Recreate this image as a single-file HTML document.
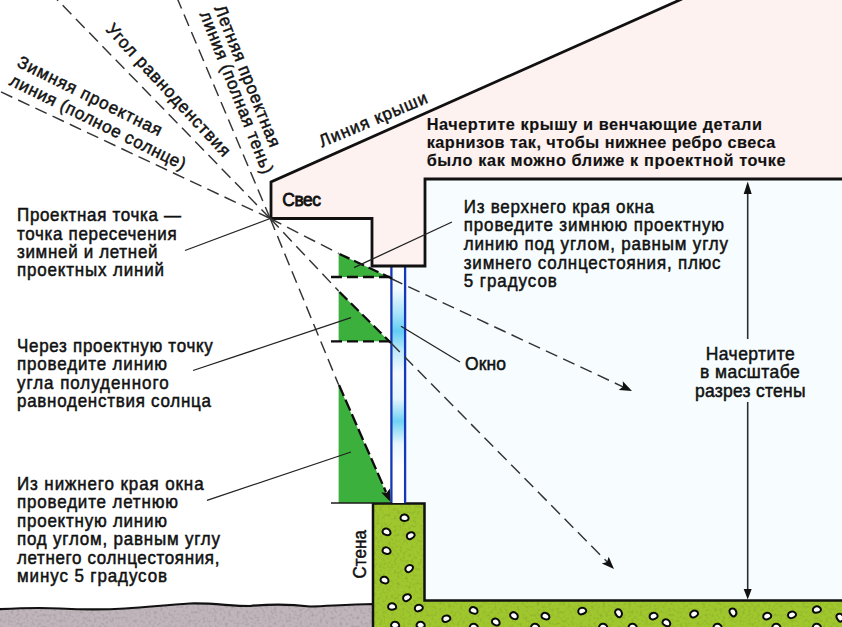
<!DOCTYPE html>
<html><head><meta charset="utf-8"><style>
html,body{margin:0;padding:0;background:#fff;}
svg{display:block;font-family:"Liberation Sans", sans-serif;}
</style></head><body>
<svg width="842" height="627" viewBox="0 0 842 627">
<rect width="842" height="627" fill="#fff"/>
<rect x="405" y="179" width="437" height="425" fill="#f7fdff"/>
<polygon points="271,182 680,0 842,0 842,179 425,179 425,266 372,266 372,218.5 271,218.5" fill="#fdf2f0"/>
<defs>
<filter id="noise" x="0" y="0" width="100%" height="100%"><feTurbulence type="fractalNoise" baseFrequency="0.35" numOctaves="2" seed="3"/><feColorMatrix type="matrix" values="0 0 0 0 0  0 0 0 0 0  0 0 0 0 0  0 0 0 1.2 -0.55"/></filter>
<clipPath id="cpG"><path d="M-5,609.5 C20,608 40,607.5 60,608.5 C80,609.5 100,610 125,608.5 C150,607 165,605 190,603.5 C215,603 230,606 250,606 C270,604 290,604 310,606.5 C330,606 345,604.5 374,604 L374,632 L-5,632 Z"/></clipPath>
<clipPath id="cpF"><path d="M373,503.5 L424.5,503.5 L424.5,600.5 L846,600.5 L846,632 L373,632 Z"/></clipPath>
</defs>
<path d="M-5,609.5 C20,608 40,607.5 60,608.5 C80,609.5 100,610 125,608.5 C150,607 165,605 190,603.5 C215,603 230,606 250,606 C270,604 290,604 310,606.5 C330,606 345,604.5 374,604 L374,632 L-5,632 Z" fill="#bfb5bb"/>
<g clip-path="url(#cpG)" opacity="0.25"><rect x="0" y="595" width="380" height="40" filter="url(#noise)"/></g>
<path d="M-5,609.5 C20,608 40,607.5 60,608.5 C80,609.5 100,610 125,608.5 C150,607 165,605 190,603.5 C215,603 230,606 250,606 C270,604 290,604 310,606.5 C330,606 345,604.5 374,604 L374,632 L-5,632 Z" fill="none" stroke="#111" stroke-width="2.2"/>
<path d="M373,503.5 L424.5,503.5 L424.5,600.5 L846,600.5 L846,632 L373,632 Z" fill="#a0c82e"/>
<g clip-path="url(#cpF)" opacity="0.22"><rect x="370" y="500" width="480" height="130" filter="url(#noise)"/></g>
<path d="M373,503.5 L424.5,503.5 L424.5,600.5 L846,600.5 L846,632 L373,632 Z" fill="none" stroke="#111" stroke-width="2.5"/>
<defs><linearGradient id="gl" x1="0" y1="266" x2="0" y2="503" gradientUnits="userSpaceOnUse">
<stop offset="0" stop-color="#ffffff"/>
<stop offset="0.1" stop-color="#f2fbff"/>
<stop offset="0.2" stop-color="#a8e4fa"/>
<stop offset="0.275" stop-color="#62cdf3"/>
<stop offset="0.36" stop-color="#bfeafb"/>
<stop offset="0.45" stop-color="#f4fbff"/>
<stop offset="0.56" stop-color="#e6f6fd"/>
<stop offset="0.655" stop-color="#6fd1f4"/>
<stop offset="0.75" stop-color="#e8f7fd"/>
<stop offset="0.85" stop-color="#ffffff"/>
<stop offset="1" stop-color="#ffffff"/>
</linearGradient></defs>
<rect x="392" y="266" width="12.5" height="237" fill="url(#gl)"/>
<line x1="391.4" y1="266" x2="391.4" y2="503" stroke="#1438b8" stroke-width="2.3"/>
<line x1="405.1" y1="266" x2="405.1" y2="503" stroke="#1438b8" stroke-width="2.3"/>
<polygon points="338.6,253.5 338.6,277 388.5,277" fill="#3cb03c"/>
<polygon points="338.6,291 338.6,341.3 389,341.3" fill="#3cb03c"/>
<polygon points="338.6,384.8 338.6,503 390.5,503" fill="#3cb03c"/>
<line x1="331" y1="277" x2="392" y2="277" stroke="#0d0d0d" stroke-width="2.3" stroke-dasharray="11 5" fill="none"/>
<line x1="331" y1="341.3" x2="390" y2="341.3" stroke="#0d0d0d" stroke-width="2.3" stroke-dasharray="11 5" fill="none"/>
<line x1="331" y1="503" x2="392" y2="503" stroke="#1a1a1a" stroke-width="1.7"/>
<path d="M-0.5,-3.2 C2.5,-3.4 4.4,-1.2 4.2,0.8 C4,2.8 1,3.4 -1.5,3.0 C-3.8,2.6 -4.3,0.6 -3.6,-1.2 C-3,-2.5 -2,-3.1 -0.5,-3.2 Z" transform="translate(404.4 517.8) rotate(0)" fill="#fff" stroke="#0a0a0a" stroke-width="2"/>
<path d="M-0.5,-3.2 C2.5,-3.4 4.4,-1.2 4.2,0.8 C4,2.8 1,3.4 -1.5,3.0 C-3.8,2.6 -4.3,0.6 -3.6,-1.2 C-3,-2.5 -2,-3.1 -0.5,-3.2 Z" transform="translate(386.5 531.8) rotate(20)" fill="#fff" stroke="#0a0a0a" stroke-width="2"/>
<path d="M-0.5,-3.2 C2.5,-3.4 4.4,-1.2 4.2,0.8 C4,2.8 1,3.4 -1.5,3.0 C-3.8,2.6 -4.3,0.6 -3.6,-1.2 C-3,-2.5 -2,-3.1 -0.5,-3.2 Z" transform="translate(410.5 535.6) rotate(-30)" fill="#fff" stroke="#0a0a0a" stroke-width="2"/>
<path d="M-0.5,-3.2 C2.5,-3.4 4.4,-1.2 4.2,0.8 C4,2.8 1,3.4 -1.5,3.0 C-3.8,2.6 -4.3,0.6 -3.6,-1.2 C-3,-2.5 -2,-3.1 -0.5,-3.2 Z" transform="translate(386.5 550.6) rotate(15)" fill="#fff" stroke="#0a0a0a" stroke-width="2"/>
<path d="M-0.5,-3.2 C2.5,-3.4 4.4,-1.2 4.2,0.8 C4,2.8 1,3.4 -1.5,3.0 C-3.8,2.6 -4.3,0.6 -3.6,-1.2 C-3,-2.5 -2,-3.1 -0.5,-3.2 Z" transform="translate(409 568.5) rotate(-40)" fill="#fff" stroke="#0a0a0a" stroke-width="2"/>
<path d="M-0.5,-3.2 C2.5,-3.4 4.4,-1.2 4.2,0.8 C4,2.8 1,3.4 -1.5,3.0 C-3.8,2.6 -4.3,0.6 -3.6,-1.2 C-3,-2.5 -2,-3.1 -0.5,-3.2 Z" transform="translate(384.5 580) rotate(20)" fill="#fff" stroke="#0a0a0a" stroke-width="2"/>
<path d="M-0.5,-3.2 C2.5,-3.4 4.4,-1.2 4.2,0.8 C4,2.8 1,3.4 -1.5,3.0 C-3.8,2.6 -4.3,0.6 -3.6,-1.2 C-3,-2.5 -2,-3.1 -0.5,-3.2 Z" transform="translate(406.8 597.6) rotate(-30)" fill="#fff" stroke="#0a0a0a" stroke-width="2"/>
<path d="M-0.5,-3.2 C2.5,-3.4 4.4,-1.2 4.2,0.8 C4,2.8 1,3.4 -1.5,3.0 C-3.8,2.6 -4.3,0.6 -3.6,-1.2 C-3,-2.5 -2,-3.1 -0.5,-3.2 Z" transform="translate(392 606.5) rotate(0)" fill="#fff" stroke="#0a0a0a" stroke-width="2"/>
<path d="M-0.5,-3.2 C2.5,-3.4 4.4,-1.2 4.2,0.8 C4,2.8 1,3.4 -1.5,3.0 C-3.8,2.6 -4.3,0.6 -3.6,-1.2 C-3,-2.5 -2,-3.1 -0.5,-3.2 Z" transform="translate(418.6 608) rotate(-20)" fill="#fff" stroke="#0a0a0a" stroke-width="2"/>
<path d="M-0.5,-3.2 C2.5,-3.4 4.4,-1.2 4.2,0.8 C4,2.8 1,3.4 -1.5,3.0 C-3.8,2.6 -4.3,0.6 -3.6,-1.2 C-3,-2.5 -2,-3.1 -0.5,-3.2 Z" transform="translate(446.1 618.7) rotate(-20)" fill="#fff" stroke="#0a0a0a" stroke-width="2"/>
<path d="M-0.5,-3.2 C2.5,-3.4 4.4,-1.2 4.2,0.8 C4,2.8 1,3.4 -1.5,3.0 C-3.8,2.6 -4.3,0.6 -3.6,-1.2 C-3,-2.5 -2,-3.1 -0.5,-3.2 Z" transform="translate(473.6 610.4) rotate(20)" fill="#fff" stroke="#0a0a0a" stroke-width="2"/>
<path d="M-0.5,-3.2 C2.5,-3.4 4.4,-1.2 4.2,0.8 C4,2.8 1,3.4 -1.5,3.0 C-3.8,2.6 -4.3,0.6 -3.6,-1.2 C-3,-2.5 -2,-3.1 -0.5,-3.2 Z" transform="translate(495.8 621.9) rotate(30)" fill="#fff" stroke="#0a0a0a" stroke-width="2"/>
<path d="M-0.5,-3.2 C2.5,-3.4 4.4,-1.2 4.2,0.8 C4,2.8 1,3.4 -1.5,3.0 C-3.8,2.6 -4.3,0.6 -3.6,-1.2 C-3,-2.5 -2,-3.1 -0.5,-3.2 Z" transform="translate(514 615.6) rotate(30)" fill="#fff" stroke="#0a0a0a" stroke-width="2"/>
<path d="M-0.5,-3.2 C2.5,-3.4 4.4,-1.2 4.2,0.8 C4,2.8 1,3.4 -1.5,3.0 C-3.8,2.6 -4.3,0.6 -3.6,-1.2 C-3,-2.5 -2,-3.1 -0.5,-3.2 Z" transform="translate(545.4 616.1) rotate(20)" fill="#fff" stroke="#0a0a0a" stroke-width="2"/>
<path d="M-0.5,-3.2 C2.5,-3.4 4.4,-1.2 4.2,0.8 C4,2.8 1,3.4 -1.5,3.0 C-3.8,2.6 -4.3,0.6 -3.6,-1.2 C-3,-2.5 -2,-3.1 -0.5,-3.2 Z" transform="translate(582 611) rotate(-20)" fill="#fff" stroke="#0a0a0a" stroke-width="2"/>
<path d="M-0.5,-3.2 C2.5,-3.4 4.4,-1.2 4.2,0.8 C4,2.8 1,3.4 -1.5,3.0 C-3.8,2.6 -4.3,0.6 -3.6,-1.2 C-3,-2.5 -2,-3.1 -0.5,-3.2 Z" transform="translate(618.6 613) rotate(60)" fill="#fff" stroke="#0a0a0a" stroke-width="2"/>
<path d="M-0.5,-3.2 C2.5,-3.4 4.4,-1.2 4.2,0.8 C4,2.8 1,3.4 -1.5,3.0 C-3.8,2.6 -4.3,0.6 -3.6,-1.2 C-3,-2.5 -2,-3.1 -0.5,-3.2 Z" transform="translate(653.4 616.1) rotate(-20)" fill="#fff" stroke="#0a0a0a" stroke-width="2"/>
<path d="M-0.5,-3.2 C2.5,-3.4 4.4,-1.2 4.2,0.8 C4,2.8 1,3.4 -1.5,3.0 C-3.8,2.6 -4.3,0.6 -3.6,-1.2 C-3,-2.5 -2,-3.1 -0.5,-3.2 Z" transform="translate(666.4 622.7) rotate(30)" fill="#fff" stroke="#0a0a0a" stroke-width="2"/>
<path d="M-0.5,-3.2 C2.5,-3.4 4.4,-1.2 4.2,0.8 C4,2.8 1,3.4 -1.5,3.0 C-3.8,2.6 -4.3,0.6 -3.6,-1.2 C-3,-2.5 -2,-3.1 -0.5,-3.2 Z" transform="translate(693.9 614) rotate(-30)" fill="#fff" stroke="#0a0a0a" stroke-width="2"/>
<path d="M-0.5,-3.2 C2.5,-3.4 4.4,-1.2 4.2,0.8 C4,2.8 1,3.4 -1.5,3.0 C-3.8,2.6 -4.3,0.6 -3.6,-1.2 C-3,-2.5 -2,-3.1 -0.5,-3.2 Z" transform="translate(733 612.2) rotate(60)" fill="#fff" stroke="#0a0a0a" stroke-width="2"/>
<path d="M-0.5,-3.2 C2.5,-3.4 4.4,-1.2 4.2,0.8 C4,2.8 1,3.4 -1.5,3.0 C-3.8,2.6 -4.3,0.6 -3.6,-1.2 C-3,-2.5 -2,-3.1 -0.5,-3.2 Z" transform="translate(767 616.1) rotate(-20)" fill="#fff" stroke="#0a0a0a" stroke-width="2"/>
<path d="M-0.5,-3.2 C2.5,-3.4 4.4,-1.2 4.2,0.8 C4,2.8 1,3.4 -1.5,3.0 C-3.8,2.6 -4.3,0.6 -3.6,-1.2 C-3,-2.5 -2,-3.1 -0.5,-3.2 Z" transform="translate(791.8 614.8) rotate(-20)" fill="#fff" stroke="#0a0a0a" stroke-width="2"/>
<path d="M-0.5,-3.2 C2.5,-3.4 4.4,-1.2 4.2,0.8 C4,2.8 1,3.4 -1.5,3.0 C-3.8,2.6 -4.3,0.6 -3.6,-1.2 C-3,-2.5 -2,-3.1 -0.5,-3.2 Z" transform="translate(816.7 609.6) rotate(-10)" fill="#fff" stroke="#0a0a0a" stroke-width="2"/>
<path d="M-0.5,-3.2 C2.5,-3.4 4.4,-1.2 4.2,0.8 C4,2.8 1,3.4 -1.5,3.0 C-3.8,2.6 -4.3,0.6 -3.6,-1.2 C-3,-2.5 -2,-3.1 -0.5,-3.2 Z" transform="translate(840 617.4) rotate(60)" fill="#fff" stroke="#0a0a0a" stroke-width="2"/>
<path d="M-0.5,-3.2 C2.5,-3.4 4.4,-1.2 4.2,0.8 C4,2.8 1,3.4 -1.5,3.0 C-3.8,2.6 -4.3,0.6 -3.6,-1.2 C-3,-2.5 -2,-3.1 -0.5,-3.2 Z" transform="translate(395 625) rotate(0)" fill="#fff" stroke="#0a0a0a" stroke-width="2"/>
<path d="M-0.5,-3.2 C2.5,-3.4 4.4,-1.2 4.2,0.8 C4,2.8 1,3.4 -1.5,3.0 C-3.8,2.6 -4.3,0.6 -3.6,-1.2 C-3,-2.5 -2,-3.1 -0.5,-3.2 Z" transform="translate(420.5 625) rotate(0)" fill="#fff" stroke="#0a0a0a" stroke-width="2"/>
<path d="M-0.5,-3.2 C2.5,-3.4 4.4,-1.2 4.2,0.8 C4,2.8 1,3.4 -1.5,3.0 C-3.8,2.6 -4.3,0.6 -3.6,-1.2 C-3,-2.5 -2,-3.1 -0.5,-3.2 Z" transform="translate(473.6 627) rotate(0)" fill="#fff" stroke="#0a0a0a" stroke-width="2"/>
<path d="M-0.5,-3.2 C2.5,-3.4 4.4,-1.2 4.2,0.8 C4,2.8 1,3.4 -1.5,3.0 C-3.8,2.6 -4.3,0.6 -3.6,-1.2 C-3,-2.5 -2,-3.1 -0.5,-3.2 Z" transform="translate(535 627) rotate(0)" fill="#fff" stroke="#0a0a0a" stroke-width="2"/>
<path d="M-0.5,-3.2 C2.5,-3.4 4.4,-1.2 4.2,0.8 C4,2.8 1,3.4 -1.5,3.0 C-3.8,2.6 -4.3,0.6 -3.6,-1.2 C-3,-2.5 -2,-3.1 -0.5,-3.2 Z" transform="translate(603 627) rotate(0)" fill="#fff" stroke="#0a0a0a" stroke-width="2"/>
<path d="M-0.5,-3.2 C2.5,-3.4 4.4,-1.2 4.2,0.8 C4,2.8 1,3.4 -1.5,3.0 C-3.8,2.6 -4.3,0.6 -3.6,-1.2 C-3,-2.5 -2,-3.1 -0.5,-3.2 Z" transform="translate(632.5 627) rotate(0)" fill="#fff" stroke="#0a0a0a" stroke-width="2"/>
<path d="M-0.5,-3.2 C2.5,-3.4 4.4,-1.2 4.2,0.8 C4,2.8 1,3.4 -1.5,3.0 C-3.8,2.6 -4.3,0.6 -3.6,-1.2 C-3,-2.5 -2,-3.1 -0.5,-3.2 Z" transform="translate(717.4 627) rotate(0)" fill="#fff" stroke="#0a0a0a" stroke-width="2"/>
<path d="M-0.5,-3.2 C2.5,-3.4 4.4,-1.2 4.2,0.8 C4,2.8 1,3.4 -1.5,3.0 C-3.8,2.6 -4.3,0.6 -3.6,-1.2 C-3,-2.5 -2,-3.1 -0.5,-3.2 Z" transform="translate(776.2 627) rotate(0)" fill="#fff" stroke="#0a0a0a" stroke-width="2"/>
<path d="M-0.5,-3.2 C2.5,-3.4 4.4,-1.2 4.2,0.8 C4,2.8 1,3.4 -1.5,3.0 C-3.8,2.6 -4.3,0.6 -3.6,-1.2 C-3,-2.5 -2,-3.1 -0.5,-3.2 Z" transform="translate(816.7 627) rotate(0)" fill="#fff" stroke="#0a0a0a" stroke-width="2"/>
<path d="M271,218.5 L271,182 L682,-1" fill="none" stroke="#111" stroke-width="2.8"/>
<path d="M271,218.5 L372,218.5 L372,266 L425,266 L425,179 L843,179" fill="none" stroke="#111" stroke-width="2.8"/>
<line x1="270.2" y1="218.5" x2="-2.0" y2="90.5" stroke="#333" stroke-width="1.45" stroke-dasharray="12.5 6.5" fill="none"/>
<line x1="270.2" y1="218.5" x2="56.0" y2="-1.5" stroke="#333" stroke-width="1.45" stroke-dasharray="12.5 6.5" fill="none"/>
<line x1="270.2" y1="218.5" x2="177.3" y2="-1.5" stroke="#333" stroke-width="1.45" stroke-dasharray="12.5 6.5" fill="none"/>
<polyline points="270.2,218.5 338.6,253.5" stroke="#333" stroke-width="1.45" stroke-dasharray="12.5 6.5" fill="none"/>
<polyline points="391,278.5 627,388.7" stroke="#333" stroke-width="1.45" stroke-dasharray="12.5 6.5" fill="none"/>
<polyline points="270.2,218.5 338.6,291" stroke="#333" stroke-width="1.45" stroke-dasharray="12.5 6.5" fill="none"/>
<polyline points="391,343 610,564.8" stroke="#333" stroke-width="1.45" stroke-dasharray="12.5 6.5" fill="none"/>
<polyline points="270.2,218.5 338.6,384.8" stroke="#333" stroke-width="1.45" stroke-dasharray="12.5 6.5" fill="none"/>
<line x1="339.5" y1="254" x2="392" y2="278.5" stroke="#0d0d0d" stroke-width="2.3" stroke-dasharray="11 5" fill="none"/>
<line x1="339.5" y1="292" x2="391" y2="343" stroke="#0d0d0d" stroke-width="2.3" stroke-dasharray="11 5" fill="none"/>
<line x1="339" y1="385" x2="386" y2="492" stroke="#0d0d0d" stroke-width="2.3" stroke-dasharray="12 4" fill="none"/>
<polygon points="632.0,391.0 618.7,390.0 623.0,386.7 622.8,381.3" fill="#111"/>
<polygon points="614.0,569.0 601.8,563.4 607.0,561.9 608.7,556.7" fill="#111"/>
<polygon points="390.5,502.0 381.2,492.4 386.6,492.8 390.0,488.6" fill="#111"/>
<line x1="185.0" y1="250.5" x2="270.2" y2="218.5" stroke="#222" stroke-width="1.3"/>
<line x1="193.0" y1="370.5" x2="351.0" y2="317.7" stroke="#222" stroke-width="1.3"/>
<line x1="207.0" y1="500.4" x2="351.0" y2="452.0" stroke="#222" stroke-width="1.3"/>
<line x1="452.0" y1="222.0" x2="354.0" y2="267.6" stroke="#222" stroke-width="1.3"/>
<line x1="401.0" y1="326.2" x2="460.0" y2="362.0" stroke="#222" stroke-width="1.3"/>
<line x1="747.7" y1="190" x2="747.7" y2="339" stroke="#2a2f33" stroke-width="1.6"/>
<line x1="747.7" y1="402" x2="747.7" y2="592" stroke="#2a2f33" stroke-width="1.6"/>
<polygon points="747.7,181.5 743.7,194 751.7,194" fill="#111"/>
<polygon points="747.7,599.5 743.7,589 751.7,589" fill="#111"/>
<text x="0" y="0" font-size="17.51" font-weight="normal" text-anchor="start" fill="#111" stroke="#111" stroke-width="0.5" textLength="169.07" lengthAdjust="spacing" transform="translate(17 221.4) rotate(0) scale(0.97 1)">Проектная точка —</text>
<text x="0" y="0" font-size="17.51" font-weight="normal" text-anchor="start" fill="#111" stroke="#111" stroke-width="0.5" textLength="164.64" lengthAdjust="spacing" transform="translate(17 239.6) rotate(0) scale(0.97 1)">точка пересечения</text>
<text x="0" y="0" font-size="17.51" font-weight="normal" text-anchor="start" fill="#111" stroke="#111" stroke-width="0.5" textLength="144.85" lengthAdjust="spacing" transform="translate(17 257.8) rotate(0) scale(0.97 1)">зимней и летней</text>
<text x="0" y="0" font-size="17.51" font-weight="normal" text-anchor="start" fill="#111" stroke="#111" stroke-width="0.5" textLength="151.55" lengthAdjust="spacing" transform="translate(17 276.0) rotate(0) scale(0.97 1)">проектных линий</text>
<text x="0" y="0" font-size="17.51" font-weight="normal" text-anchor="start" fill="#111" stroke="#111" stroke-width="0.5" textLength="201.86" lengthAdjust="spacing" transform="translate(17 352.1) rotate(0) scale(0.97 1)">Через проектную точку</text>
<text x="0" y="0" font-size="17.51" font-weight="normal" text-anchor="start" fill="#111" stroke="#111" stroke-width="0.5" textLength="154.64" lengthAdjust="spacing" transform="translate(17 370.40000000000003) rotate(0) scale(0.97 1)">проведите линию</text>
<text x="0" y="0" font-size="17.51" font-weight="normal" text-anchor="start" fill="#111" stroke="#111" stroke-width="0.5" textLength="156.39" lengthAdjust="spacing" transform="translate(17 388.70000000000005) rotate(0) scale(0.97 1)">угла полуденного</text>
<text x="0" y="0" font-size="17.51" font-weight="normal" text-anchor="start" fill="#111" stroke="#111" stroke-width="0.5" textLength="200.00" lengthAdjust="spacing" transform="translate(17 407.0) rotate(0) scale(0.97 1)">равноденствия солнца</text>
<text x="0" y="0" font-size="17.51" font-weight="normal" text-anchor="start" fill="#111" stroke="#111" stroke-width="0.5" textLength="192.37" lengthAdjust="spacing" transform="translate(17 489.8) rotate(0) scale(0.97 1)">Из нижнего края окна</text>
<text x="0" y="0" font-size="17.51" font-weight="normal" text-anchor="start" fill="#111" stroke="#111" stroke-width="0.5" textLength="165.98" lengthAdjust="spacing" transform="translate(17 508.3) rotate(0) scale(0.97 1)">проведите летнюю</text>
<text x="0" y="0" font-size="17.51" font-weight="normal" text-anchor="start" fill="#111" stroke="#111" stroke-width="0.5" textLength="154.64" lengthAdjust="spacing" transform="translate(17 526.8) rotate(0) scale(0.97 1)">проектную линию</text>
<text x="0" y="0" font-size="17.51" font-weight="normal" text-anchor="start" fill="#111" stroke="#111" stroke-width="0.5" textLength="209.28" lengthAdjust="spacing" transform="translate(17 545.3) rotate(0) scale(0.97 1)">под углом, равным углу</text>
<text x="0" y="0" font-size="17.51" font-weight="normal" text-anchor="start" fill="#111" stroke="#111" stroke-width="0.5" textLength="208.66" lengthAdjust="spacing" transform="translate(17 563.8) rotate(0) scale(0.97 1)">летнего солнцестояния,</text>
<text x="0" y="0" font-size="17.51" font-weight="normal" text-anchor="start" fill="#111" stroke="#111" stroke-width="0.5" textLength="154.64" lengthAdjust="spacing" transform="translate(17 582.3) rotate(0) scale(0.97 1)">минус 5 градусов</text>
<text x="0" y="0" font-size="17.51" font-weight="normal" text-anchor="start" fill="#111" stroke="#111" stroke-width="0.5" textLength="196.08" lengthAdjust="spacing" transform="translate(463.8 212.6) rotate(0) scale(0.97 1)">Из верхнего края окна</text>
<text x="0" y="0" font-size="17.51" font-weight="normal" text-anchor="start" fill="#111" stroke="#111" stroke-width="0.5" textLength="268.25" lengthAdjust="spacing" transform="translate(463.8 231.29999999999998) rotate(0) scale(0.97 1)">проведите зимнюю проектную</text>
<text x="0" y="0" font-size="17.51" font-weight="normal" text-anchor="start" fill="#111" stroke="#111" stroke-width="0.5" textLength="272.37" lengthAdjust="spacing" transform="translate(463.8 250.0) rotate(0) scale(0.97 1)">линию под углом, равным углу</text>
<text x="0" y="0" font-size="17.51" font-weight="normal" text-anchor="start" fill="#111" stroke="#111" stroke-width="0.5" textLength="264.74" lengthAdjust="spacing" transform="translate(463.8 268.7) rotate(0) scale(0.97 1)">зимнего солнцестояния, плюс</text>
<text x="0" y="0" font-size="17.51" font-weight="normal" text-anchor="start" fill="#111" stroke="#111" stroke-width="0.5" textLength="95.88" lengthAdjust="spacing" transform="translate(463.8 287.4) rotate(0) scale(0.97 1)">5 градусов</text>
<text x="0" y="0" font-size="16.27" font-weight="bold" text-anchor="start" fill="#111" stroke="#111" stroke-width="0.15" textLength="335.30" lengthAdjust="spacing" transform="translate(426.7 130.3) rotate(0) scale(1.0 1)">Начертите крышу и венчающие детали</text>
<text x="0" y="0" font-size="16.27" font-weight="bold" text-anchor="start" fill="#111" stroke="#111" stroke-width="0.15" textLength="348.70" lengthAdjust="spacing" transform="translate(426.7 148.0) rotate(0) scale(1.0 1)">карнизов так, чтобы нижнее ребро свеса</text>
<text x="0" y="0" font-size="16.27" font-weight="bold" text-anchor="start" fill="#111" stroke="#111" stroke-width="0.15" textLength="358.80" lengthAdjust="spacing" transform="translate(426.7 165.70000000000002) rotate(0) scale(1.0 1)">было как можно ближе к проектной точке</text>
<text x="0" y="0" font-size="18.03" font-weight="normal" text-anchor="start" fill="#111" stroke="#111" stroke-width="0.8" textLength="39.90" lengthAdjust="spacing" transform="translate(282.3 205.8) rotate(0) scale(0.97 1)">Свес</text>
<text x="0" y="0" font-size="18.03" font-weight="normal" text-anchor="start" fill="#111" stroke="#111" stroke-width="0.5" textLength="42.27" lengthAdjust="spacing" transform="translate(465 369.5) rotate(0) scale(0.97 1)">Окно</text>
<text x="0" y="0" font-size="18.03" font-weight="normal" text-anchor="start" fill="#111" stroke="#111" stroke-width="0.5" textLength="91.65" lengthAdjust="spacing" transform="translate(705.8 359.9) rotate(0) scale(0.97 1)">Начертите</text>
<text x="0" y="0" font-size="18.03" font-weight="normal" text-anchor="start" fill="#111" stroke="#111" stroke-width="0.5" textLength="102.78" lengthAdjust="spacing" transform="translate(700 378.2) rotate(0) scale(0.97 1)">в масштабе</text>
<text x="0" y="0" font-size="18.03" font-weight="normal" text-anchor="start" fill="#111" stroke="#111" stroke-width="0.5" textLength="113.92" lengthAdjust="spacing" transform="translate(695 396.5) rotate(0) scale(0.97 1)">разрез стены</text>
<text x="0" y="0" font-size="17.51" font-weight="normal" text-anchor="start" fill="#111" stroke="#111" stroke-width="0.5" textLength="50.00" lengthAdjust="spacing" transform="translate(366 578.5) rotate(-90) scale(0.97 1)">Стена</text>
<text x="0" y="0" font-size="17.51" font-weight="normal" text-anchor="start" fill="#111" stroke="#111" stroke-width="0.5" textLength="119.59" lengthAdjust="spacing" transform="translate(322 147.6) rotate(-23) scale(0.97 1)">Линия крыши</text>
<text x="0" y="0" font-size="17.51" font-weight="normal" text-anchor="start" fill="#111" stroke="#111" stroke-width="0.5" textLength="163.92" lengthAdjust="spacing" transform="translate(16 66) rotate(26.3) scale(0.97 1)">Зимняя проектная</text>
<text x="0" y="0" font-size="17.51" font-weight="normal" text-anchor="start" fill="#111" stroke="#111" stroke-width="0.5" textLength="200.00" lengthAdjust="spacing" transform="translate(8.3 84.4) rotate(26.3) scale(0.97 1)">линия (полное солнце)</text>
<text x="0" y="0" font-size="17.51" font-weight="normal" text-anchor="start" fill="#111" stroke="#111" stroke-width="0.5" textLength="179.38" lengthAdjust="spacing" transform="translate(105 30) rotate(47.2) scale(0.97 1)">Угол равноденствия</text>
<text x="0" y="0" font-size="17.51" font-weight="normal" text-anchor="start" fill="#111" stroke="#111" stroke-width="0.5" textLength="155.67" lengthAdjust="spacing" transform="translate(214 8) rotate(68.2) scale(0.97 1)">Летняя проектная</text>
<text x="0" y="0" font-size="17.51" font-weight="normal" text-anchor="start" fill="#111" stroke="#111" stroke-width="0.5" textLength="178.35" lengthAdjust="spacing" transform="translate(199.5 14) rotate(68.5) scale(0.97 1)">линия (полная тень)</text>
</svg>
</body></html>
